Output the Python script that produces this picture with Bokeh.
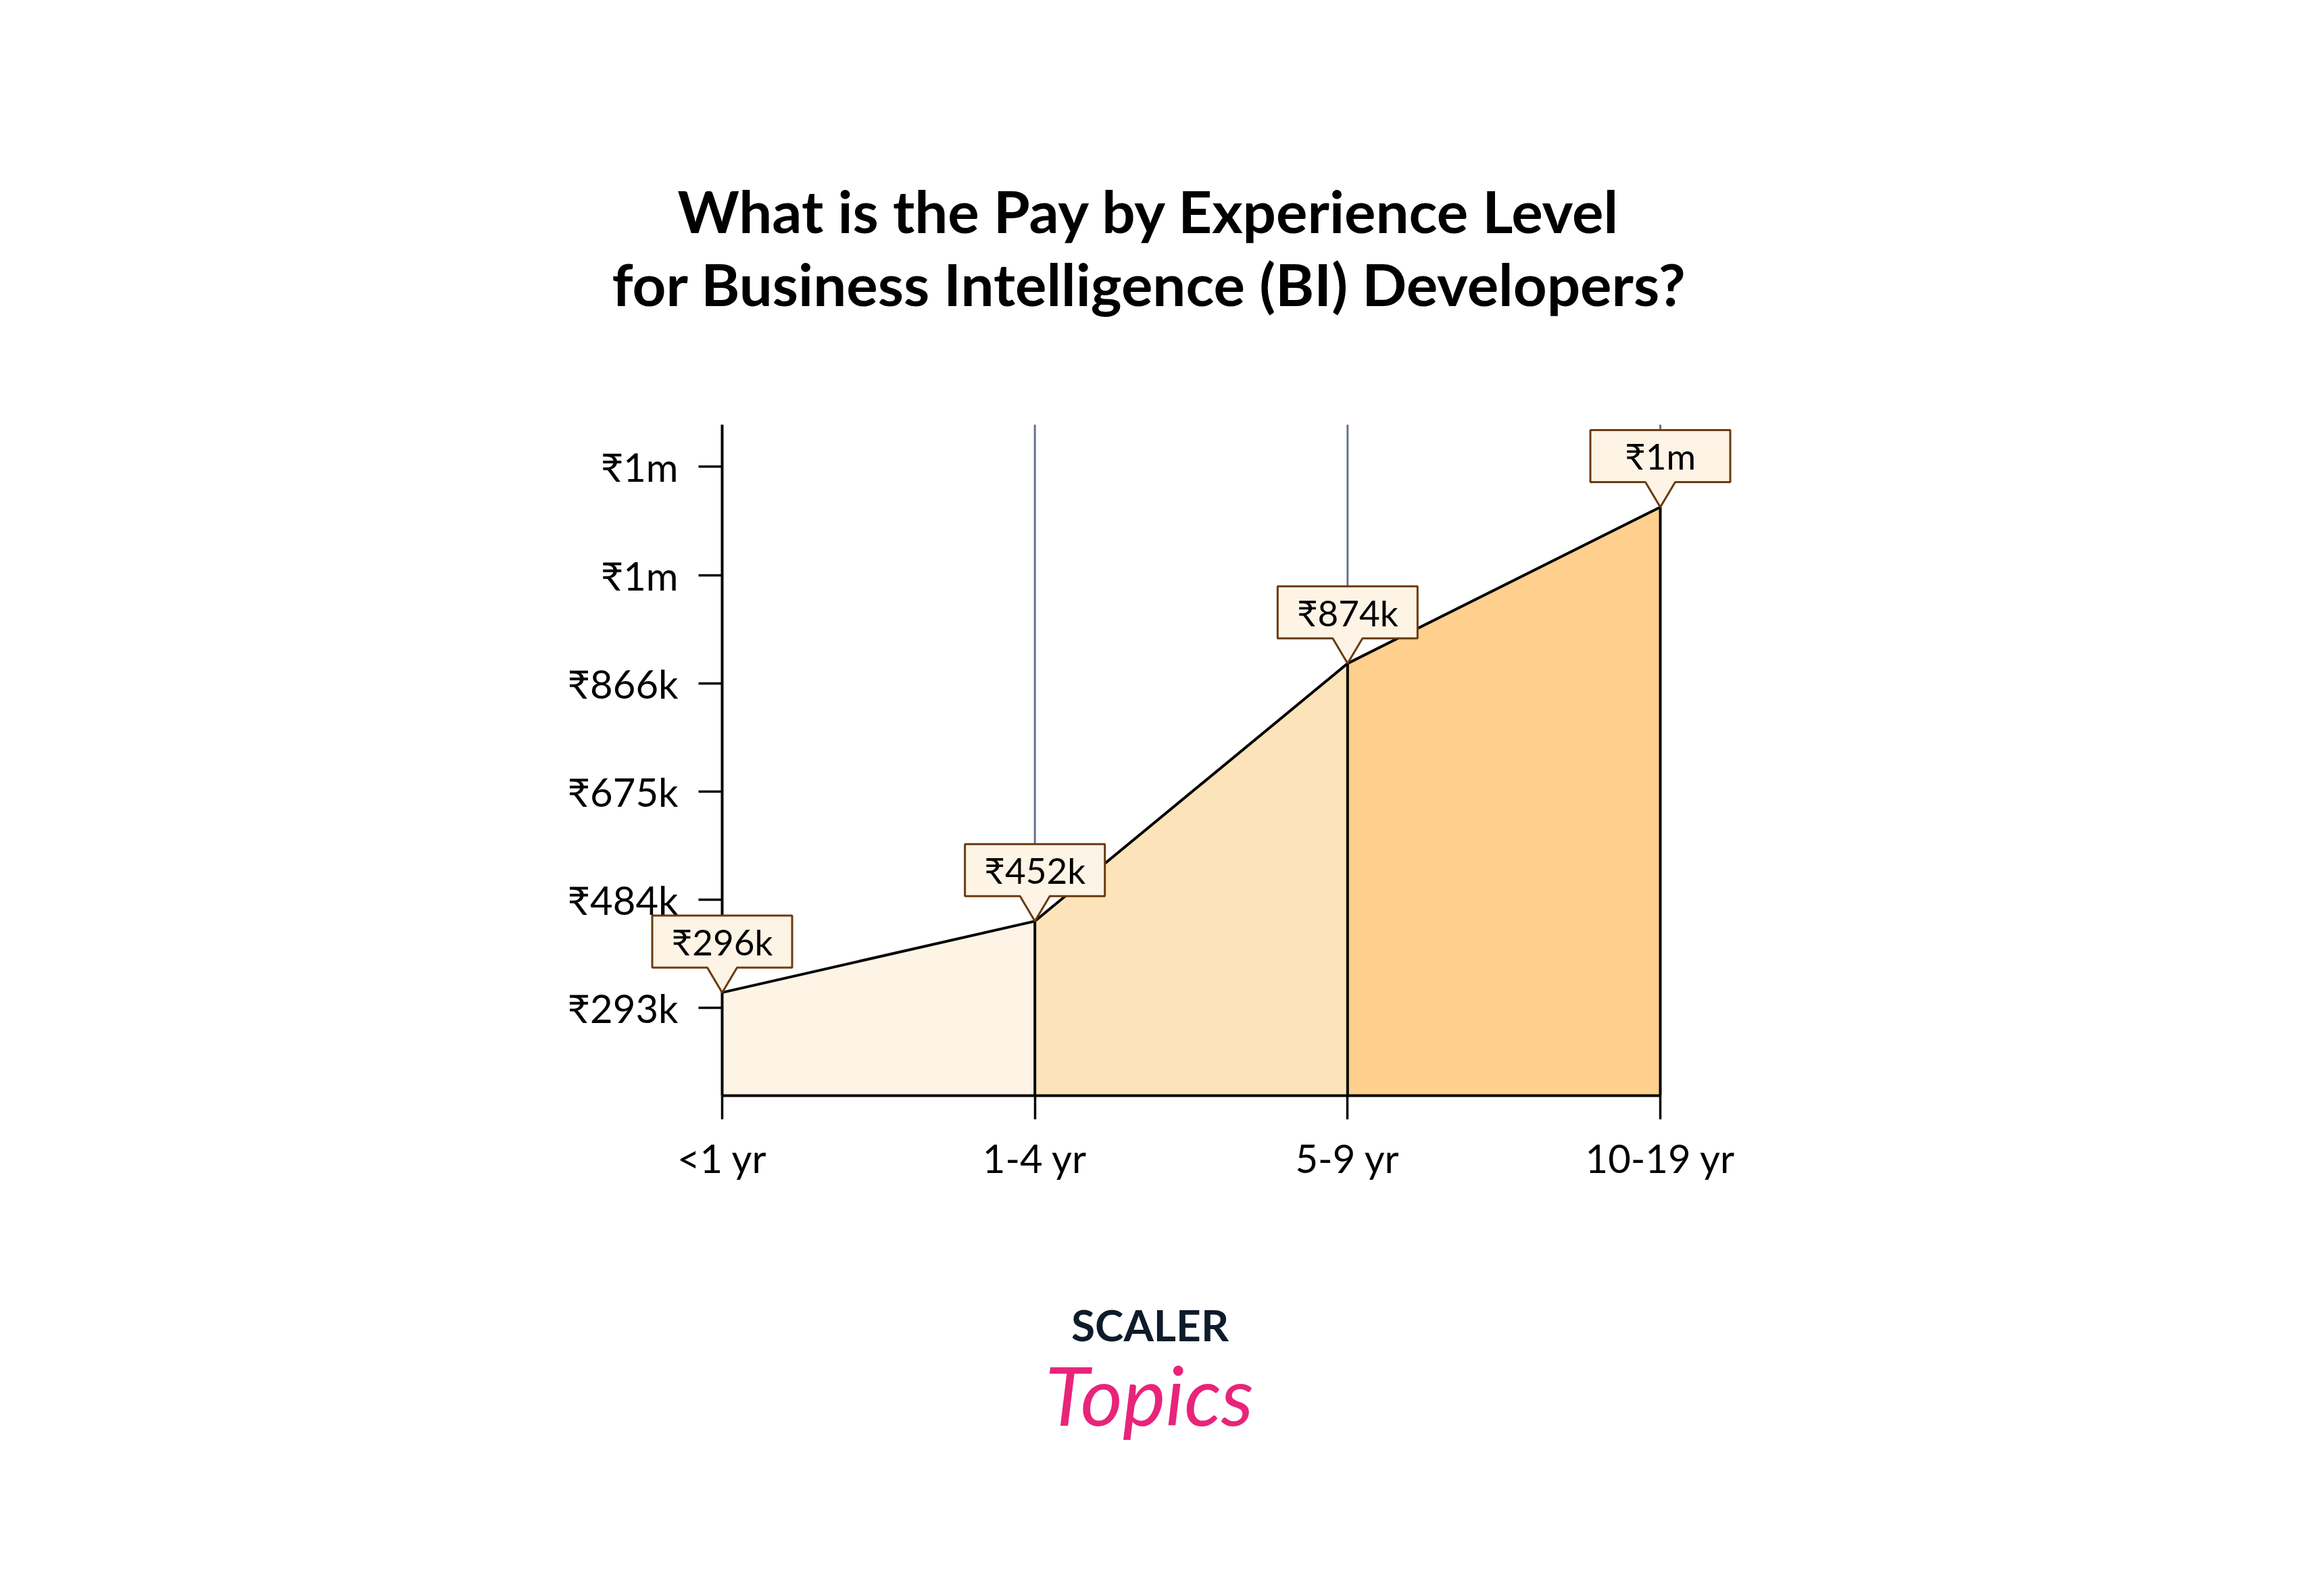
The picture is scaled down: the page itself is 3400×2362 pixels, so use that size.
from bokeh.plotting import figure
from bokeh.models import Range1d, FixedTicker, Label, PolyAnnotation
from bokeh.embed import file_html
from bokeh.resources import INLINE

# ---------------- data ----------------
categories = ["<1 yr", "1-4 yr", "5-9 yr", "10-19 yr"]
pay_plotted = [320000, 446000, 901000, 1177000]      # height of each vertex as drawn
pay_labels = ["₹296k", "₹452k", "₹874k", "₹1m"]      # callout texts
y_tick_values = [293000, 484000, 675000, 866000, 1057000, 1248000]
y_tick_labels = ["₹293k", "₹484k", "₹675k", "₹866k", "₹1m", "₹1m"]
segment_colors = ["#FEF4E6", "#FDE3B9", "#FECF8D"]

title_lines = ["What is the Pay by Experience Level",
               "for Business Intelligence (BI) Developers?"]

# ---------------- layout ----------------
W, H = 3384, 2346
Y_START, Y_END = 138000, 1322500           # extent of the y axis
X_START, X_END = 0, len(categories) - 1    # extent of the x axis
AX_L, AX_T = 1068, 628                     # plot area position on the canvas
AX_W, AX_H = 1388, 993
ux = (X_END - X_START) / AX_W
uy = (Y_END - Y_START) / AX_H
xr = Range1d(X_START - AX_L * ux, X_END + (W - AX_L - AX_W) * ux)
yr = Range1d(Y_START - (H - AX_T - AX_H) * uy, Y_END + AX_T * uy)
FONT = "Lato"
BASE_SHIFT = 0.39   # rendered alphabetic baseline sits ~0.39em below the anchor


def canvas_to_data(px, py):
    return xr.start + px * ux, yr.end - py * uy


def text_at(px, baseline, size, **kw):
    x, y = canvas_to_data(px, baseline - BASE_SHIFT * size)
    p.add_layout(Label(x=x, y=y, text_align="center", text_baseline="alphabetic",
                       text_font=FONT, text_font_size=f"{size}px", **kw))


p = figure(width=W, height=H, min_border=0,
           x_range=xr, y_range=yr, title_location=None,
           output_backend="svg", toolbar_location=None, tools="")
p.outline_line_color = None
p.background_fill_color = "white"
p.border_fill_color = "white"
p.xgrid.visible = False
p.ygrid.visible = False

# axes, pinned at the plot-area edges
p.xaxis.fixed_location = Y_START
p.xaxis.bounds = (X_START, X_END)
p.yaxis.fixed_location = X_START
p.yaxis.bounds = (Y_START, Y_END)
p.xaxis.ticker = FixedTicker(ticks=list(range(len(categories))))
p.xaxis.major_label_overrides = {i: c for i, c in enumerate(categories)}
p.yaxis.ticker = FixedTicker(ticks=y_tick_values)
p.yaxis.major_label_overrides = {v: l for v, l in zip(y_tick_values, y_tick_labels)}
for ax in (p.xaxis, p.yaxis):
    ax.axis_line_color = "black"
    ax.axis_line_width = 4
    ax.major_tick_line_color = "black"
    ax.major_tick_line_width = 3.5
    ax.major_tick_in = 0
    ax.major_tick_out = 35
    ax.minor_tick_line_color = None
    ax.major_label_text_font = FONT
    ax.major_label_text_font_size = "58px"
    ax.major_label_text_color = "black"
p.yaxis.major_label_standoff = 30
p.xaxis.major_label_standoff = 22

# vertical guide lines (grid) at each category
cat_x = list(range(len(categories)))
p.segment(x0=cat_x[1:], y0=[Y_START] * 3, x1=cat_x[1:], y1=[Y_END] * 3,
          line_color="#66738F", line_width=3, level="underlay")

# area segments
xs, ys = [], []
for i in range(len(categories) - 1):
    xs.append([i, i + 1, i + 1, i])
    ys.append([Y_START, Y_START, pay_plotted[i + 1], pay_plotted[i]])
p.patches(xs, ys, fill_color=segment_colors, line_color=None)

# vertical dividers and top line
p.segment(x0=cat_x[1:], y0=[Y_START] * 3, x1=cat_x[1:], y1=pay_plotted[1:],
          line_color="black", line_width=4)
p.line(cat_x, pay_plotted, line_color="black", line_width=4)

# callouts
BOX_W, BOX_H, PTR_W, PTR_H = 207, 77, 22, 37
for i, (v, lab) in enumerate(zip(pay_plotted, pay_labels)):
    hx = BOX_W / 2 * ux
    pw = PTR_W * ux
    pb = v + PTR_H * uy
    bt = v + (PTR_H + BOX_H) * uy
    p.add_layout(PolyAnnotation(
        xs=[i, i - pw, i - hx, i - hx, i + hx, i + hx, i + pw],
        ys=[v, pb, pb, bt, bt, pb, pb],
        fill_color="#FEF4E6", fill_alpha=1.0,
        line_color="#6B3A0F", line_alpha=1.0, line_width=3))
    p.add_layout(Label(x=i, y=v + (PTR_H + BOX_H / 2) * uy, text=lab,
                       text_align="center", text_baseline="middle",
                       text_font=FONT, text_font_size="53px", text_color="black"))

# title
for line, base in zip(title_lines, [345, 453]):
    text_at(1700, base, 87, text=line, text_font_style="bold", text_color="black")

# logo
text_at(1701, 1985, 64, text="SCALER", text_font_style="bold", text_color="#0D1B2A")
text_at(1700, 2110, 120, text="Topics", text_font_style="italic", text_color="#E8247A")

open("out.html", "w").write(file_html(p, INLINE))
